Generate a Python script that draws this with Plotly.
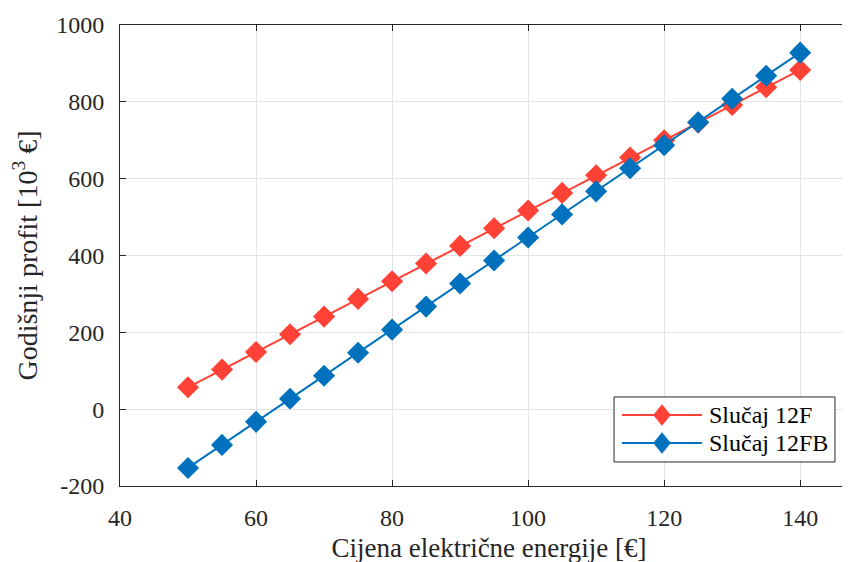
import plotly.graph_objects as go

price = [50, 55, 60, 65, 70, 75, 80, 85, 90, 95, 100, 105, 110, 115, 120, 125, 130, 135, 140]
profit_12F = [57, 103, 149, 195, 241, 287, 333, 379, 425, 471, 517, 563, 609, 655, 700, 746, 792, 838, 883]
profit_12FB = [-153, -93, -33, 27, 87, 147, 207, 267, 327, 387, 447, 507, 567, 627, 687, 747, 808, 868, 928]
series_names = ["Slučaj 12F", "Slučaj 12FB"]
series_colors = ["#FF4136", "#0072BD"]
x_ticks = [40, 60, 80, 100, 120, 140]
y_ticks = [-200, 0, 200, 400, 600, 800, 1000]
y_tick_labels = ["-200", "0", "200", "400", "600", "800", "1000"]

FONT = "Liberation Serif"

fig = go.Figure()
for vals, name, col in zip([profit_12F, profit_12FB], series_names, series_colors):
    fig.add_trace(go.Scatter(
        x=price, y=vals, name=name, mode="lines+markers",
        line=dict(color=col, width=2),
        marker=dict(symbol="diamond", size=17, color=col),
        showlegend=False,
    ))

# manual legend (MATLAB style: long line sample with marker in the middle)
box_x0, box_x1, box_y0, box_y1 = 0.6694, 0.9688, 0.0521, 0.1931
row_y = [0.1540, 0.0933]
line_x0, line_x1, mark_x, text_x = 0.6802, 0.7886, 0.7344, 0.7954
shapes = [dict(type="rect", xref="paper", yref="paper", x0=box_x0, x1=box_x1, y0=box_y0, y1=box_y1,
               line=dict(color="#262626", width=1), fillcolor="white", layer="above")]
annotations = []
for ry, name, col in zip(row_y, series_names, series_colors):
    shapes.append(dict(type="line", xref="paper", yref="paper", x0=line_x0, x1=line_x1, y0=ry, y1=ry,
                       line=dict(color=col, width=2), layer="above"))
    shapes.append(dict(type="path", xref="paper", yref="paper", xsizemode="pixel", ysizemode="pixel",
                       xanchor=mark_x, yanchor=ry, path="M0,-10.5 L8.5,0 L0,10.5 L-8.5,0 Z",
                       fillcolor=col, line=dict(color=col, width=0.5), layer="above"))
    annotations.append(dict(xref="paper", yref="paper", x=text_x, y=ry, xanchor="left", yanchor="middle",
                            text=name, showarrow=False, font=dict(family=FONT, size=24, color="#000000")))

fig.update_layout(
    width=850, height=562,
    margin=dict(l=112, r=0, t=17, b=84, autoexpand=False),
    paper_bgcolor="white", plot_bgcolor="white",
    font=dict(family=FONT, size=24, color="#262626"),
    showlegend=False,
    shapes=shapes, annotations=annotations,
)
fig.update_xaxes(
    range=[40, 148.5], tickvals=x_ticks,
    showgrid=True, gridcolor="#E3E3E3", gridwidth=1,
    showline=True, linecolor="#262626", linewidth=1, mirror="ticks",
    ticks="inside", ticklen=6, tickcolor="#262626",
    zeroline=False, ticklabelstandoff=10, automargin=False,
    title=dict(text="Cijena električne energije [€]", font=dict(family=FONT, size=27), standoff=8),
)
fig.update_yaxes(
    range=[-200, 1000], tickvals=y_ticks, ticktext=y_tick_labels,
    showgrid=True, gridcolor="#E3E3E3", gridwidth=1,
    showline=True, linecolor="#262626", linewidth=1,
    ticks="inside", ticklen=6, tickcolor="#262626",
    zeroline=False, ticklabelstandoff=10, automargin=False,
    title=dict(text="Godišnji profit [10<sup>3</sup> €]", font=dict(family=FONT, size=28), standoff=10),
)

fig.write_html("out.html")
